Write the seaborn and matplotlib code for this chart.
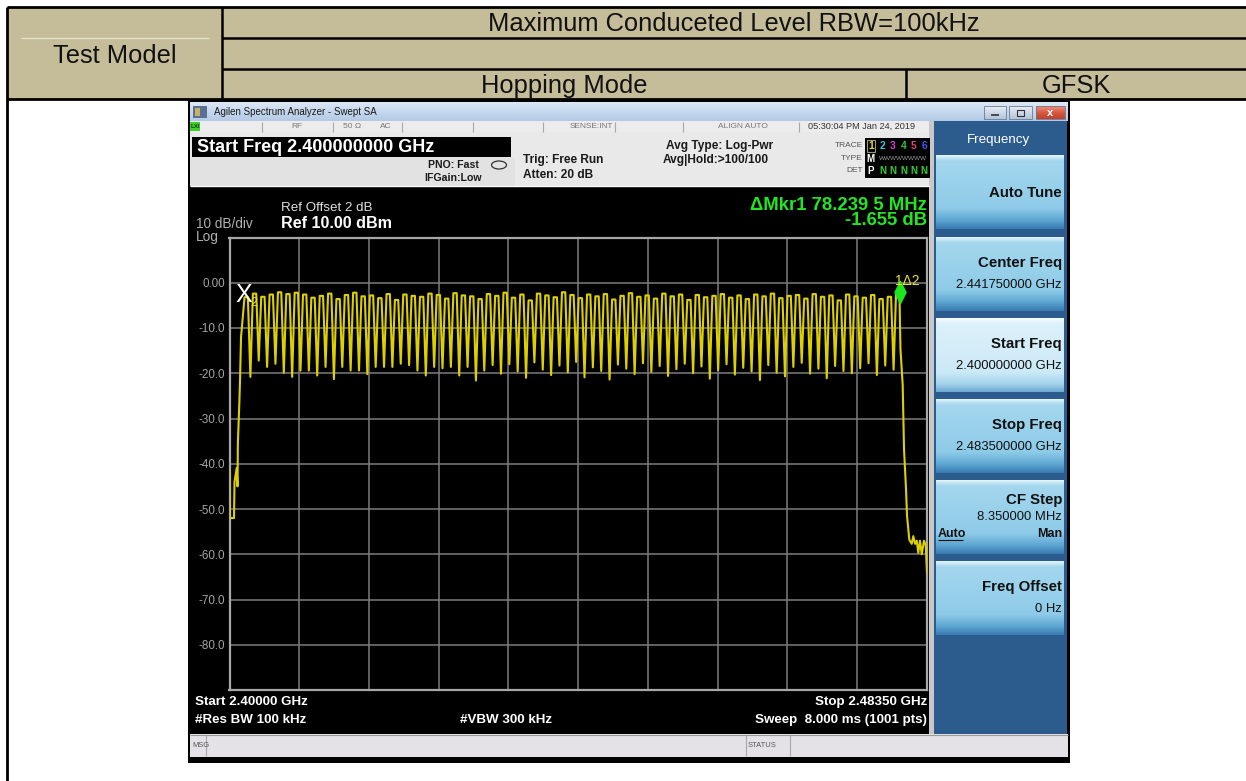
import numpy as np
import pandas as pd
import matplotlib
matplotlib.use("Agg")
import matplotlib.pyplot as plt
import matplotlib.colors as mcolors
from matplotlib.patches import Rectangle, Ellipse
from matplotlib.path import Path
import seaborn as sns

# ---------------- spectrum data ----------------
START_MHZ = 2400.0
STOP_MHZ = 2483.5
REF_LEVEL_DBM = 10.0
DB_PER_DIV = 10.0

# 79 hopping channels, 1 MHz apart
CHANNEL_MHZ = list(range(2402, 2481))

# peak level of each channel (dBm)
CHANNEL_PEAK_DB = [
    -3.2, -2.4, -3.1, -2.6, -2.1, -2.5, -2.2, -2.6, -3.3, -2.9,
    -2.4, -3.6, -2.7, -2.2, -3.0, -2.8, -3.4, -2.5, -3.8, -2.6,
    -2.9, -3.1, -2.4, -2.7, -3.5, -2.3, -2.8, -3.0, -3.6, -2.5,
    -2.9, -2.2, -3.3, -2.6, -3.9, -2.4, -2.8, -3.2, -2.1, -2.7,
    -3.4, -2.6, -3.0, -2.5, -3.7, -2.9, -2.3, -3.1, -2.8, -3.5,
    -2.4, -3.0, -2.6, -3.8, -2.7, -3.2, -2.9, -2.5, -3.3, -2.8,
    -3.6, -2.6, -3.0, -2.4, -3.4, -2.9, -2.7, -3.5, -2.5, -3.1,
    -2.8, -3.9, -2.6, -3.0, -3.3, -2.7, -3.6, -3.1, -1.96,
]

# minimum level between neighbouring channels (dBm)
GAP_DIP_DB = [
    -20.8, -17.2, -18.6, -17.9, -19.9, -20.8, -19.4, -19.4, -20.5, -18.6,
    -21.3, -18.6, -19.4, -19.4, -20.2, -18.6, -18.6, -18.6, -17.9, -18.2,
    -19.4, -20.5, -18.6, -18.9, -18.6, -20.5, -18.6, -21.6, -19.4, -18.2,
    -20.1, -18.0, -19.6, -21.0, -17.6, -19.2, -20.4, -18.3, -19.8, -17.5,
    -20.9, -18.7, -19.5, -21.4, -18.1, -19.0, -20.2, -17.8, -19.7, -18.4,
    -20.6, -19.1, -17.9, -20.0, -18.5, -21.2, -19.3, -18.0, -20.3, -18.8,
    -19.6, -21.5, -18.2, -19.9, -20.7, -18.6, -17.7, -20.1, -19.0, -21.1,
    -18.4, -19.5, -20.0, -18.9, -17.8, -20.4, -18.3, -19.2,
]

# lower band edge (below the first channel)
LOW_EDGE_MHZ = [2400.00, 2400.06, 2400.54, 2400.60, 2400.86, 2400.96,
                2401.00, 2401.17, 2401.26, 2401.38]
LOW_EDGE_DB = [-41.5, -52.0, -52.0, -44.0, -41.0, -45.0,
               -35.5, -27.0, -21.6, -12.0]

# upper band edge (above the last channel)
HIGH_EDGE_MHZ = [2480.32, 2480.59, 2480.75, 2480.99, 2481.11, 2481.38,
                 2481.67, 2481.86, 2482.07, 2482.27, 2482.46, 2482.66,
                 2482.87, 2483.14, 2483.35, 2483.50]
HIGH_EDGE_DB = [-14.5, -22.6, -36.8, -45.7, -51.5, -56.8,
                -57.7, -56.0, -57.7, -57.0, -59.7, -57.0,
                -60.0, -57.0, -58.0, -64.0]

# delta marker: fixed reference (2) and active marker (1)
MKR2_MHZ = 2402.0
MKR2_DB = -0.3
MKR_DELTA_MHZ = 78.2395
MKR_DELTA_DB = -1.655

Y_LEVELS = list(range(-90, 11, 10))

# ---------------- build trace ----------------
HALF_TOP = 0.2   # half-width of each channel's flat top, MHz
freqs, levels = list(LOW_EDGE_MHZ), list(LOW_EDGE_DB)
for k, (c, pk) in enumerate(zip(CHANNEL_MHZ, CHANNEL_PEAK_DB)):
    if k > 0:
        freqs.append(c - 0.5)
        levels.append(GAP_DIP_DB[k - 1])
    freqs += [c - HALF_TOP, c + HALF_TOP]
    levels += [pk, pk]
freqs += HIGH_EDGE_MHZ
levels += HIGH_EDGE_DB
trace = pd.DataFrame({"freq": freqs, "level": levels})

mkr1_mhz = MKR2_MHZ + MKR_DELTA_MHZ
mkr1_db = MKR2_DB + MKR_DELTA_DB

# ---------------- figure ----------------
plt.rcParams["font.family"] = ["Liberation Sans", "DejaVu Sans"]
W, H = 1246, 781
fig = plt.figure(figsize=(W / 100, H / 100), dpi=100)
fig.patch.set_facecolor("white")
bg = fig.add_axes([0, 0, 1, 1])
bg.axis("off")


def rect(x0, y0, x1, y1, color, z=1, **kw):
    bg.add_patch(Rectangle((x0, y0), x1 - x0, y1 - y0, facecolor=color,
                           edgecolor=kw.pop("ec", "none"), zorder=z, **kw))


def line(xs, ys, color="black", lw=1.8, z=5):
    bg.plot(xs, ys, color=color, lw=lw, zorder=z, solid_capstyle="butt")


def vgrad(x0, y0, x1, y1, stops, z=2):
    pos = np.linspace(0, 1, 80)
    ps = [p for p, _ in stops]
    cols = np.array([mcolors.to_rgb(c) for _, c in stops])
    arr = np.stack([np.interp(pos, ps, cols[:, i]) for i in range(3)], axis=-1)[:, None, :]
    bg.imshow(arr, extent=(x0, x1, y1, y0), aspect="auto",
              interpolation="bilinear", zorder=z)


def txt(x, y, s, size, color="black", weight="normal", ha="left", va="center", z=6, **kw):
    bg.text(x, y, s, fontsize=size, color=color, fontweight=weight,
            ha=ha, va=va, zorder=z, **kw)


# ---- report table header ----
TAN = "#C5BD99"
rect(7, 7, W, 99, TAN, z=1)
line([7, W], [7, 7], lw=2.0)
line([7, 7], [7, H], lw=2.0)
line([222, 222], [7, 99])
line([222, W], [38, 38])
line([222, W], [69, 69])
line([7, W], [99, 99], lw=2.0)
line([906, 906], [69, 99])
line([21, 209], [38, 38], color="#E8E3D0", lw=0.9)
txt(115, 63, "Test Model", 18.4, "#111111", ha="center", va="baseline")
txt(734, 31, "Maximum Conduceted Level RBW=100kHz", 18.4, "#111111", ha="center", va="baseline")
txt(564, 93, "Hopping Mode", 18.4, "#111111", ha="center", va="baseline")
txt(1076, 93, "GFSK", 18.4, "#111111", ha="center", va="baseline")

# ---- instrument window ----
rect(188, 99, 1070, 763, "black", z=1)
vgrad(190, 102, 1068, 121, [(0, "#DCE8F6"), (0.5, "#C6D8EE"), (1, "#B2CAE6")])
rect(193, 106, 207, 118, "#5A6E96", z=3)
rect(195, 108, 200, 116, "#C8B060", z=3)
txt(214, 112, "Agilen Spectrum Analyzer - Swept SA", 7, "#1A1A1A")
# window buttons
vgrad(984, 106, 1006, 119, [(0, "#E8EEF6"), (1, "#B4C4DA")], z=3)
vgrad(1009, 106, 1032, 119, [(0, "#E8EEF6"), (1, "#B4C4DA")], z=3)
vgrad(1036, 106, 1065, 119, [(0, "#F09080"), (0.5, "#D85A44"), (1, "#C04028")], z=3)
for x0, x1 in [(984, 1006), (1009, 1032), (1036, 1065)]:
    rect(x0, 106, x1, 119, "none", z=4, ec="#6A7A90", lw=0.6)
line([991, 999], [114.5, 114.5], color="#333333", lw=1.2, z=5)
rect(1017, 110, 1024, 116, "none", z=5, ec="#333333", lw=0.8)
txt(1050.5, 112.5, "x", 8, "white", weight="bold", ha="center")

# status row
rect(190, 121, 930, 132, "#ECECEC", z=2)
rect(190, 122, 200, 131, "#3FCF2A", z=3)
txt(191, 126.5, "LXI", 4.5, "#114411", weight="bold")
for xd in [262, 333, 402, 473, 543, 615, 683, 799]:
    line([xd, xd], [121.5, 131.5], color="#A8A8A8", lw=0.8, z=3)
txt(297, 126.5, "RF", 6, "#777777", ha="center")
txt(343, 126.5, "50 Ω", 6, "#777777")
txt(380, 126.5, "AC", 6, "#777777")
txt(613, 126.5, "SENSE:INT", 6, "#777777", ha="right")
txt(743, 126.5, "ALIGN AUTO", 6, "#777777", ha="center")
txt(862, 126.5, "05:30:04 PM Jan 24, 2019", 6.6, "#333333", ha="center")

# settings area
rect(190, 132, 930, 186, "#E9E9E9", z=2)
rect(190, 157, 515, 186, "#E2E2E2", z=2)
line([190, 930], [186, 186], color="#FAFAFA", lw=1.0, z=3)
rect(192, 137, 511, 157, "black", z=3)
txt(197, 147, "Start Freq 2.400000000 GHz", 13, "white", weight="bold")
txt(453, 164.5, "PNO: Fast", 7.6, "#1A1A1A", weight="bold", ha="center")
txt(453, 178, "IFGain:Low", 7.6, "#1A1A1A", weight="bold", ha="center")
bg.add_patch(Ellipse((499, 165), 15, 8, facecolor="none", edgecolor="#333333", lw=0.9, zorder=4))
txt(523, 160, "Trig: Free Run", 8.6, "#1A1A1A", weight="bold")
txt(523, 175, "Atten: 20 dB", 8.6, "#1A1A1A", weight="bold")
txt(720, 145.5, "Avg Type: Log-Pwr", 8.6, "#1A1A1A", weight="bold", ha="center")
txt(716, 160.5, "Avg|Hold:>100/100", 8.6, "#1A1A1A", weight="bold", ha="center")

# trace status box
rect(865, 138, 930, 178, "black", z=3)
txt(863, 145.5, "TRACE", 6, "#555555", ha="right")
txt(863, 158, "TYPE", 6, "#555555", ha="right")
txt(863, 170.5, "DET", 6, "#555555", ha="right")
rect(866.5, 139.5, 875, 152, "none", z=4, ec="#9A9A6A", lw=0.8)
trace_cols = ["#E8DC20", "#30C8E0", "#D040D0", "#30C040", "#E04868", "#4A58E8"]
for i, (xc, col) in enumerate(zip([870.7, 882.7, 893, 904, 914, 924], trace_cols)):
    txt(xc, 146, str(i + 1), 7.4, col, weight="bold", ha="center")
txt(870.7, 158.5, "M", 7, "white", weight="bold", ha="center")
txt(903, 158.5, "WWWWWWWW", 4.6, "#9A9A9A", ha="center")
txt(870.7, 171, "P", 7, "white", weight="bold", ha="center")
for xc in [882.7, 893, 904, 914, 924]:
    txt(xc, 171, "N", 7, "#30D030", weight="bold", ha="center")

# screen annotations
txt(281, 208, "Ref Offset 2 dB", 9.6, "#E0E0E0")
txt(281, 224, "Ref 10.00 dBm", 11.6, "white", weight="bold")
txt(196, 224, "10 dB/div", 9.8, "#B0B0B0")
txt(196, 236.5, "Log", 9.8, "#B0B0B0")
dfs = f"{MKR_DELTA_MHZ:.4f}"
txt(927, 209.5, f"ΔMkr1 {dfs[:-1]} {dfs[-1]} MHz", 13.3, "#22E622", weight="bold",
    ha="right", va="baseline")
txt(927, 225, f"{MKR_DELTA_DB:.3f} dB", 13.3, "#22E622", weight="bold",
    ha="right", va="baseline")

txt(195, 702, f"Start {START_MHZ / 1000:.5f} GHz", 9.6, "white", weight="bold")
txt(927, 702, f"Stop {STOP_MHZ / 1000:.5f} GHz", 9.6, "white", weight="bold", ha="right")
txt(195, 720, "#Res BW 100 kHz", 9.6, "white", weight="bold")
txt(460, 720, "#VBW 300 kHz", 9.6, "white", weight="bold")
txt(927, 720, "Sweep  8.000 ms (1001 pts)", 9.6, "white", weight="bold", ha="right")

# message bar
rect(190, 734, 1068, 757, "#E4E2E6", z=2)
line([190, 1068], [734.5, 734.5], color="#9A9A9A", lw=0.8, z=3)
for xd in [206, 746, 790]:
    line([xd, xd], [735, 756], color="#A8A8A8", lw=0.8, z=3)
txt(192, 745.5, "MSG", 5.4, "#555555")
txt(748, 745.5, "STATUS", 5.4, "#555555")

# softkey panel
rect(929, 121, 934, 734, "#C8C8C8", z=2)
rect(934, 121, 1067, 734, "#2C5C8E", z=2)
txt(999, 140, "Frequency", 9.6, "white", ha="center")


def softkey(y0, y1, selected=False):
    if selected:
        stops = [(0, "#F6FCFF"), (0.07, "#DDF1FA"), (0.74, "#CBE9F7"),
                 (0.9, "#A2D2EA"), (1, "#6BA9D3")]
    else:
        stops = [(0, "#E2F3FB"), (0.07, "#A4D7EE"), (0.72, "#8ECBE8"),
                 (0.88, "#5FA7D3"), (1, "#3A7CB2")]
    vgrad(936, y0, 1064, y1, stops, z=3)


keys_top = [155, 237, 318, 399, 480, 561]
for i, yt in enumerate(keys_top):
    softkey(yt, yt + 74, selected=(i == 2))

KEY_X = 1062
txt(KEY_X, 193, "Auto Tune", 10.8, "#111111", weight="bold", ha="right")
txt(KEY_X, 263, "Center Freq", 10.8, "#111111", weight="bold", ha="right")
txt(KEY_X, 285, "2.441750000 GHz", 9.4, "#111111", ha="right")
txt(KEY_X, 344, "Start Freq", 10.8, "#111111", weight="bold", ha="right")
txt(KEY_X, 366, f"{START_MHZ / 1000:.9f} GHz", 9.4, "#111111", ha="right")
txt(KEY_X, 425, "Stop Freq", 10.8, "#111111", weight="bold", ha="right")
txt(KEY_X, 447, f"{STOP_MHZ / 1000:.9f} GHz", 9.4, "#111111", ha="right")
txt(KEY_X, 500, "CF Step", 10.8, "#111111", weight="bold", ha="right")
txt(KEY_X, 517, "8.350000 MHz", 9.4, "#111111", ha="right")
txt(938, 534, "Auto", 9, "#111111", weight="bold")
line([938, 963], [540, 540], color="#111111", lw=0.8, z=6)
txt(KEY_X, 534, "Man", 9, "#111111", weight="bold", ha="right")
txt(KEY_X, 587, "Freq Offset", 10.8, "#111111", weight="bold", ha="right")
txt(KEY_X, 609, "0 Hz", 9.4, "#111111", ha="right")

bg.set_xlim(0, W)
bg.set_ylim(H, 0)

# ---------------- spectrum graticule ----------------
GL, GR, GT, GB = 229.5, 927.0, 237.5, 690.0
ax = fig.add_axes([GL / W, 1 - GB / H, (GR - GL) / W, (GB - GT) / H])
ax.set_facecolor("black")
sns.lineplot(data=trace, x="freq", y="level", ax=ax, color="#DCD000",
             lw=1.5, estimator=None, sort=False, zorder=3)

ax.set_xlim(START_MHZ, STOP_MHZ)
ax.set_ylim(REF_LEVEL_DBM - 10 * DB_PER_DIV, REF_LEVEL_DBM)
ax.set_xticks(np.linspace(START_MHZ, STOP_MHZ, 11))
ax.set_xticklabels([])
ax.set_yticks(Y_LEVELS)
ax.set_yticklabels(["" if v in (Y_LEVELS[0], Y_LEVELS[-1])
                    else ("0.00" if v == 0 else f"{v:.1f}") for v in Y_LEVELS])
ax.tick_params(length=0, labelsize=8.4, labelcolor="#A4A4A4", pad=3.5)
ax.grid(True, color="#7C7C7C", lw=1.1, zorder=1)
ax.set_axisbelow(True)
ax.set_xlabel("")
ax.set_ylabel("")
for sp in ax.spines.values():
    sp.set_color("#A8A8A8")
    sp.set_linewidth(1.6)

# markers
diamond = Path([(0, 1), (0.5, 0), (0, -1), (-0.5, 0), (0, 1)],
               [Path.MOVETO, Path.LINETO, Path.LINETO, Path.LINETO, Path.CLOSEPOLY])
ax.plot([mkr1_mhz], [mkr1_db], marker=diamond, ms=16, color="#1EE61E",
        mec="#1EE61E", ls="none", zorder=5, clip_on=False)
ax.annotate("1Δ2", (mkr1_mhz, mkr1_db), xytext=(-3.4, 7.4), textcoords="offset points",
            color="#E8E030", fontsize=10, ha="left", va="center", zorder=6)
ax.annotate("X", (MKR2_MHZ, MKR2_DB), xytext=(-2.1, -8.1), textcoords="offset points",
            color="white", fontsize=18, ha="center", va="center", zorder=6)
ax.annotate("2", (MKR2_MHZ, MKR2_DB), xytext=(5.3, -13.5), textcoords="offset points",
            color="#E8E030", fontsize=9, ha="center", va="center", zorder=6)

fig.savefig("out.png", dpi=100, facecolor="white")
